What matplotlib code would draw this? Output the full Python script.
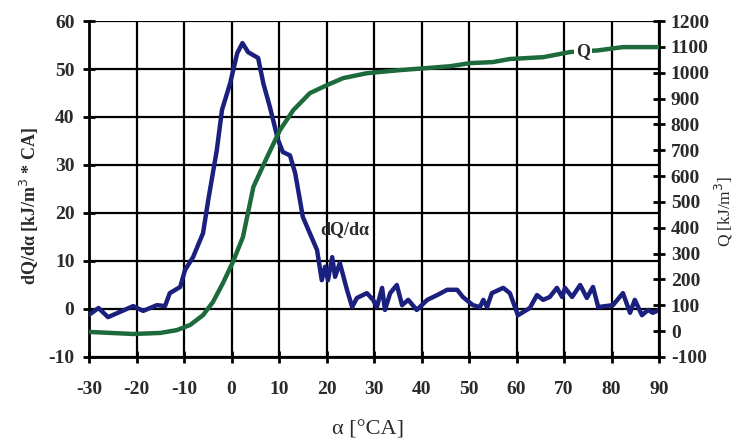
import matplotlib.pyplot as plt
import numpy as np

# crank angle / heat release rate (left axis)
ang_dq = [-30, -28, -26, -20.7, -18.6, -15.7, -14, -13, -10.8, -9.8, -8.1, -6, -4.9,
          -3.1, -2, -0.3, 1.2, 2.3, 3.5, 5.6, 6.7, 8.1, 9.8, 10.8, 12.3, 13.4, 14.4,
          15, 18, 19, 19.7, 20.3, 21.2, 21.8, 22.8, 24.3, 25.4, 26.4, 28.5, 29.8, 30.6,
          31.7, 32.3, 33.4, 34.8, 35.9, 37.2, 39, 41.2, 43.3, 45.4, 47.5, 48.7, 50.8,
          52.3, 53, 53.8, 54.8, 57.2, 58.6, 60.3, 62.8, 64.3, 65.6, 67, 68.5, 69.6,
          70.2, 71.7, 73.4, 74.8, 76.1, 77.2, 80.3, 82.4, 83.9, 84.9, 86.4, 87.7,
          88.7, 90]
dq = [-1.2, 0.2, -1.7, 0.6, -0.4, 0.8, 0.6, 3.3, 4.6, 8.1, 10.8, 15.8, 22.7,
      33.1, 41.5, 47, 53.3, 55.4, 53.5, 52.3, 47, 42, 35.2, 32.7, 32, 28.3, 22.7,
      19.2, 12.3, 6, 8.8, 6, 10.8, 6.7, 9.6, 4, 0.4, 2.3, 3.3, 1.9, 0.4,
      4.4, -0.2, 3.3, 5, 0.8, 1.9, -0.2, 1.9, 2.9, 4, 4, 2.5, 0.8,
      0.4, 1.9, 0.4, 3.3, 4.4, 3.3, -1.3, 0.2, 2.9, 1.9, 2.5, 4.4, 2.5,
      4.4, 2.5, 5, 2.3, 4.6, 0.4, 0.8, 3.3, -0.8, 1.9, -1.3, -0.2,
      -0.8, -0.2]

# cumulative heat release (right axis)
ang_q = [-30, -20.7, -15, -11.5, -8.7, -6, -3.9, -1.8, 0.3, 2.4, 4.6, 7.5, 10.2,
         13, 16.5, 20.1, 23.5, 28.5, 35.5, 41.2, 46, 50.2, 55, 58.6, 65.6, 71.3,
         77, 82.4, 90]
q = [-3, -11, -7, 4, 24, 62, 113, 186, 268, 364, 558, 674, 778,
     855, 921, 952, 979, 998, 1010, 1018, 1025, 1037, 1041, 1053, 1060, 1080,
     1086, 1099, 1099]

blue = '#1b1f7e'
green = '#1d6b3c'
txt = '#2a2a2a'

plt.rcParams['font.family'] = 'Liberation Serif'
plt.rcParams['axes.unicode_minus'] = False

fig = plt.figure(figsize=(7.37, 4.45), dpi=100)
ax = fig.add_axes([0.1208, 0.1978, 0.7734, 0.755])
ax2 = ax.twinx()

ax.set_xlim(-30, 90)
ax.set_ylim(-10, 60)
ax2.set_ylim(-100, 1200)
ax.set_xticks(np.arange(-30, 91, 10))
ax.set_yticks(np.arange(-10, 61, 10))
ax2.set_yticks(np.arange(-100, 1201, 100))

ax.grid(True, color='black', linewidth=1.6)
ax.set_axisbelow(True)

ax.plot(ang_dq, dq, color=blue, linewidth=3.2, zorder=3)
ax2.plot(ang_q, q, color=green, linewidth=3.2, zorder=3)

ax2.text(74, 1081, 'Q', fontsize=13, fontweight='bold', color=txt,
         ha='center', va='center', zorder=4,
         bbox=dict(facecolor='white', edgecolor='none', pad=1.5))
ax.text(23.8, 16.5, 'dQ/dα', fontsize=13, fontweight='bold', color=txt,
        ha='center', va='center', zorder=4)

for a in (ax, ax2):
    for s in a.spines.values():
        s.set_visible(False)
ax.spines['left'].set_visible(True)
ax.spines['bottom'].set_visible(True)
ax2.spines['right'].set_visible(True)
for s in (ax.spines['left'], ax.spines['bottom'], ax2.spines['right']):
    s.set_linewidth(2)
    s.set_color('black')

ax.tick_params(axis='both', direction='inout', length=9, width=2,
               labelsize=14, labelcolor=txt, pad=6)
ax2.tick_params(axis='y', direction='inout', length=9, width=2,
                labelsize=14, labelcolor=txt, pad=4)
ax.tick_params(axis='x', pad=13)
for lab in ax.get_xticklabels() + ax.get_yticklabels() + ax2.get_yticklabels():
    lab.set_fontweight('bold')

ax.set_ylabel('dQ/dα [kJ/m$^3$ * CA]', fontsize=13, fontweight='bold', color=txt)
ax.yaxis.set_label_coords(-0.085, 0.45)
ax2.set_ylabel('Q [kJ/m$^3$]', fontsize=12.5, color=txt)
ax2.yaxis.set_label_coords(1.095, 0.435)
ax.set_xlabel('α [°CA]', fontsize=16, color=txt)
ax.xaxis.set_label_coords(0.49, -0.19)

fig.savefig('out.png', dpi=100)
